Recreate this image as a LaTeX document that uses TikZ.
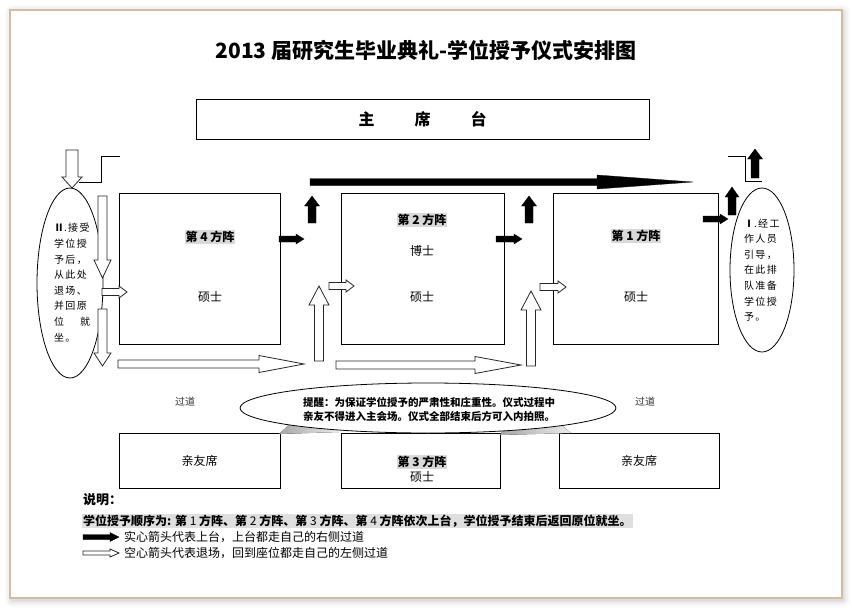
\documentclass[tikz,border=0pt]{standalone}
\usepackage{fontspec}
\setmainfont{Noto Sans CJK SC}
\newfontfamily\spacedcjk[LetterSpace=14]{Noto Sans CJK SC}
\definecolor{frametan}{RGB}{214,188,158}
\newcommand{\harrow}[7][]{\draw[#1] (#2,{#4-(#5)}) -- ({#3-(#7)},{#4-(#5)}) -- ({#3-(#7)},{#4-(#6)}) -- (#3,#4) -- ({#3-(#7)},{#4+(#6)}) -- ({#3-(#7)},{#4+(#5)}) -- (#2,{#4+(#5)}) -- cycle;}
\newcommand{\varrow}[7][]{\draw[#1] ({#4-(#5)},#2) -- ({#4-(#5)},{#3-(#7)}) -- ({#4-(#6)},{#3-(#7)}) -- (#4,#3) -- ({#4+(#6)},{#3-(#7)}) -- ({#4+(#5)},{#3-(#7)}) -- ({#4+(#5)},#2) -- cycle;}
\begin{document}
\begin{tikzpicture}[x=1pt,y=-1pt,
  box/.style={draw,line width=0.9pt,inner sep=0pt},
  tag/.style={fill=gray!30,inner sep=1pt,font=\fontsize{12}{14}\selectfont\bfseries},
  plain/.style={font=\fontsize{12}{14}\selectfont},
  note/.style={font=\spacedcjk\fontsize{10}{15.6}\selectfont,text width=36pt,align=left,inner sep=0pt},
  solidarrow/.style={fill=black,draw=black,line width=0.3pt},
  hollowarrow/.style={fill=white,draw=black!85,line width=0.8pt}]
  \useasboundingbox (0,0) rectangle (852,610);
  \foreach \s/\o in {7/0.02,5/0.03,3/0.04,1/0.05}
    \fill[black,opacity=\o,rounded corners=\s pt] ({10-\s+2},{10-\s+2}) rectangle ({842+\s+1},{598+\s+2});
  \draw[frametan,line width=1.5pt,fill=white] (10,10) rectangle (842,598);

  \node[font=\fontsize{21}{24}\selectfont\bfseries] (title) at (426,50) {2013 届研究生毕业典礼-学位授予仪式安排图};
  \node[box,minimum width=453pt,minimum height=40pt,font=\fontsize{16}{18}\selectfont\bfseries] (stage) at (422.5,119) {主\hspace{40pt}席\hspace{40pt}台};

  \node[box,minimum width=161pt,minimum height=151pt] (sq4) at (199.5,268.5) {};
  \node[box,minimum width=163pt,minimum height=151pt] (sq2) at (422.5,268.5) {};
  \node[box,minimum width=165pt,minimum height=151pt] (sq1) at (635.5,268.5) {};
  \node[tag] (sq4tag) at (210,237) {第 4 方阵};
  \node[plain] (sq4ms) at (210,297) {硕士};
  \node[tag] (sq2tag) at (422,220) {第 2 方阵};
  \node[plain] (sq2phd) at (422,251) {博士};
  \node[plain] (sq2ms) at (422,297) {硕士};
  \node[tag] (sq1tag) at (636,236) {第 1 方阵};
  \node[plain] (sq1ms) at (636,297) {硕士};

  \node[box,minimum width=161pt,minimum height=55pt,plain] (seatl) at (199.5,460.5) {亲友席};
  \node[box,minimum width=159pt,minimum height=55pt] (sq3) at (420.5,460.5) {};
  \node[box,minimum width=160pt,minimum height=55pt,plain] (seatr) at (639,460.5) {亲友席};
  \node[tag] (sq3tag) at (422,462) {第 3 方阵};
  \node[plain] (sq3ms) at (422,477) {硕士};

  \node[font=\fontsize{10}{12}\selectfont,text=black!80] (aislel) at (185,402) {过道};
  \node[font=\fontsize{10}{12}\selectfont,text=black!80] (aisler) at (645,402) {过道};

  \draw[line width=0.8pt] (70,283) ellipse (33pt and 95pt);
  \draw[line width=0.8pt] (762,270) ellipse (32pt and 82pt);
  \node[note] (leftnote) at (72,282.5) {\textbf{Ⅱ}.接受\\学位授\\予后，\\从此处\\退场、\\并回原\\位\hfill 就\\坐。};
  \node[note] (rightnote) at (762,270) {\textbf{Ⅰ}.经工\\作人员\\引导，\\在此排\\队准备\\学位授\\予。};

  \draw[line width=0.8pt] (79,182) -- (101,182) -- (101,156) -- (120,156);
  \draw[line width=0.8pt] (728,156) -- (745,156) -- (745,181) -- (762,181);

  \varrow[hollowarrow]{150}{188}{72}{6}{10}{11}
  \varrow[hollowarrow]{196}{278}{102.5}{4.5}{8.5}{18}
  \varrow[hollowarrow]{309}{366}{102.5}{4.5}{8.5}{13}
  \harrow[hollowarrow]{102}{127}{292}{3.5}{6}{8}
  \harrow[hollowarrow]{329}{354}{286}{3.5}{6}{8}
  \harrow[hollowarrow]{540}{566}{287}{3.5}{6}{8}
  \harrow[hollowarrow]{118}{304}{364}{4}{8.5}{45}
  \harrow[hollowarrow]{336}{521}{365}{4}{8.5}{46}
  \varrow[hollowarrow]{361}{286}{319}{4.5}{10}{-19}
  \varrow[hollowarrow]{366}{291}{531}{4.5}{10}{-19}

  \harrow[solidarrow]{310}{693}{182}{3.5}{7}{96}
  \varrow[solidarrow]{223}{196}{312}{4}{7.5}{-10}
  \varrow[solidarrow]{223}{196}{529}{4}{7.5}{-10}
  \varrow[solidarrow]{215}{187}{732}{4}{7}{-10}
  \varrow[solidarrow]{178}{149}{755}{4}{7.5}{-10}
  \harrow[solidarrow]{279}{304}{239}{3}{5}{8}
  \harrow[solidarrow]{496}{522}{239}{3}{5}{8}
  \harrow[solidarrow]{703}{728}{219}{3}{5}{8}

  \fill[left color=gray!70,right color=gray!15] (279,434) -- (290,424) -- (338,424) -- (339,432) -- cycle;
  \fill[left color=gray!70,right color=gray!15] (500,435) -- (506,424) -- (560,424) -- (571,433) -- cycle;
  \draw[fill=white,line width=0.8pt] (428,408) ellipse (188pt and 25pt);
  \node[font=\fontsize{10.5}{14}\selectfont\bfseries,anchor=west,align=left,inner sep=0pt] (warn) at (303,409) {提醒：为保证学位授予的严肃性和庄重性。仪式过程中\\亲友不得进入主会场。仪式全部结束后方可入内拍照。};

  \node[anchor=west,inner sep=0pt,font=\fontsize{13}{15}\selectfont\bfseries] (expl) at (83,500) {说明：};
  \node[anchor=west,fill=gray!25,inner sep=1pt,font=\fontsize{12}{14}\selectfont\bfseries] (order) at (82,521) {学位授予顺序为: 第 {\mdseries 1} 方阵、第 {\mdseries 2} 方阵、第 {\mdseries 3} 方阵、第 {\mdseries 4} 方阵依次上台，学位授予结束后返回原位就坐。};
  \harrow[solidarrow]{83}{119}{537}{2.5}{4.5}{9}
  \harrow[hollowarrow]{83}{119}{553}{2}{4}{9}
  \node[anchor=west,inner sep=0pt,plain] (solidkey) at (124,537) {实心箭头代表上台，上台都走自己的右侧过道};
  \node[anchor=west,inner sep=0pt,plain] (hollowkey) at (124,553) {空心箭头代表退场，回到座位都走自己的左侧过道};
\end{tikzpicture}
\end{document}
